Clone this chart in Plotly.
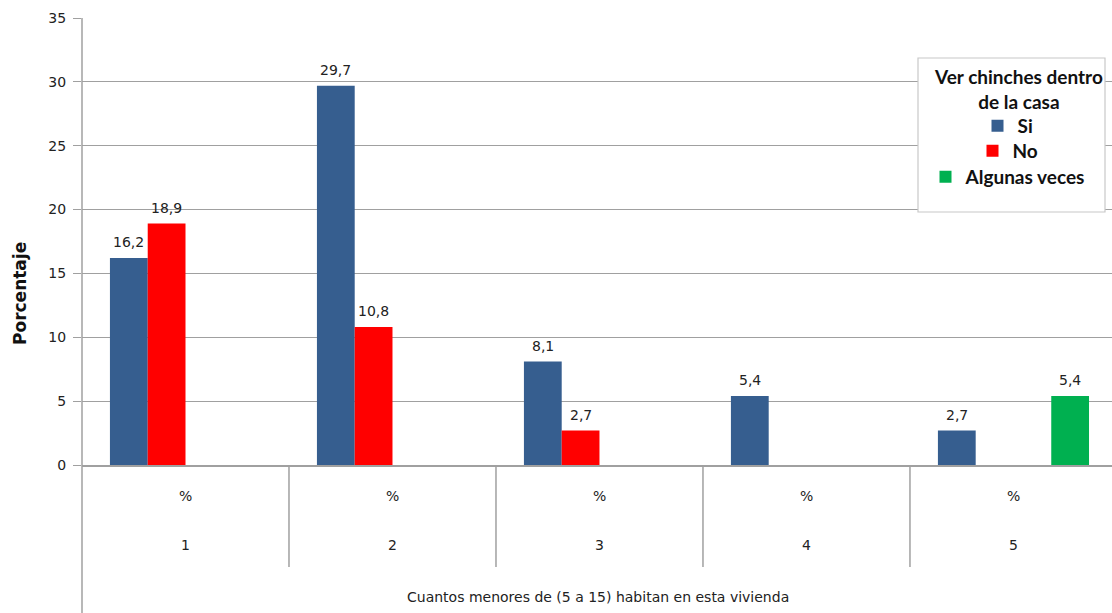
import plotly.graph_objects as go

# Number of children (5 to 15) living in the household
categorias = ["1", "2", "3", "4", "5"]
subetiqueta = "%"

# Percentages per answer to "Ver chinches dentro de la casa"
si = [16.2, 29.7, 8.1, 5.4, 2.7]
no = [18.9, 10.8, 2.7, None, None]
sin_dato = [None, None, None, None, None]
algunas_veces = [None, None, None, None, 5.4]

y_ticks = [0, 5, 10, 15, 20, 25, 30, 35]

COL_SI = "#365E8F"
COL_NO = "#FF0000"
COL_ALG = "#00B050"
GRID = "#a0a0a0"
TXT = "#222222"
TICKFONT = dict(family="DejaVu Sans", size=14, color=TXT)
BARGAP = 0.27


def etiqueta(v):
    return f"{v:.1f}".replace(".", ",")


series = [
    ("Si", si, COL_SI, True, "legend"),
    ("No", no, COL_NO, True, "legend2"),
    ("NS/NR", sin_dato, "#7F7F7F", False, "legend"),
    ("Algunas veces", algunas_veces, COL_ALG, True, "legend3"),
]

fig = go.Figure()
for nombre, vals, color, visible_leyenda, leyenda in series:
    fig.add_trace(go.Bar(
        x=categorias, y=vals, name=nombre,
        marker=dict(color=color, line=dict(width=0)),
        showlegend=visible_leyenda, legend=leyenda,
    ))

# Plot area geometry: bottom of the axis at 465px, top at 18px
plot_h = 613 - 18 - 148


def py(pix):
    return (465 - pix) / plot_h


def px(pix):
    return (pix - 82) / 1030


annotations = []
# value labels above each bar (grouped bar offsets inside the category)
ancho_barra = (1 - BARGAP) / len(series)
for k, (nombre, vals, color, _, _) in enumerate(series):
    desplaz = (k - (len(series) - 1) / 2) * ancho_barra
    for i, v in enumerate(vals):
        if v is None:
            continue
        annotations.append(dict(x=i + desplaz, y=v, xref="x", yref="y",
                                xanchor="center", yanchor="bottom", yshift=6,
                                text=etiqueta(v), showarrow=False, font=TICKFONT))

shapes = []
# left axis line extending down through the category labels
shapes.append(dict(type="line", xref="paper", yref="paper", x0=0, x1=0,
                   y0=1, y1=py(613), line=dict(color=GRID, width=1.5)))
# separators between categories
for i in range(len(categorias) - 1):
    shapes.append(dict(type="line", xref="x", yref="paper",
                       x0=i + 0.5, x1=i + 0.5, y0=0, y1=py(567),
                       line=dict(color=GRID, width=1.5)))
# legend frame
shapes.append(dict(type="rect", xref="paper", yref="paper",
                   x0=px(918), x1=px(1105), y0=py(212), y1=py(58), layer="above",
                   fillcolor="white", line=dict(color="#c8c8c8", width=1.2)))

for i, c in enumerate(categorias):
    annotations.append(dict(x=i, y=py(496), xref="x", yref="paper",
                            xanchor="center", yanchor="middle",
                            text=subetiqueta, showarrow=False, font=TICKFONT))
    annotations.append(dict(x=i, y=py(545), xref="x", yref="paper",
                            xanchor="center", yanchor="middle",
                            text=c, showarrow=False, font=TICKFONT))
annotations.append(dict(x=px(598), y=py(597), xref="paper", yref="paper",
                        xanchor="center", yanchor="middle",
                        text="Cuantos menores de (5 a 15) habitan en esta vivienda",
                        showarrow=False, font=dict(family="DejaVu Sans", size=14, color=TXT)))
annotations.append(dict(x=px(20), y=py(294), xref="paper", yref="paper",
                        xanchor="center", yanchor="middle", textangle=-90,
                        text="<b>Porcentaje</b>", showarrow=False,
                        font=dict(family="DejaVu Sans", size=17, color="#111111")))
annotations.append(dict(x=px(1018), y=py(89), xref="paper", yref="paper",
                        xanchor="center", yanchor="middle",
                        text="<b>Ver chinches dentro<br>de la casa</b>", showarrow=False,
                        align="center",
                        font=dict(family="Lato", size=19, color="#111111")))

leg_x = px(1008)
leg_common = dict(xref="paper", yref="paper", xanchor="center", yanchor="middle",
                  bgcolor="rgba(0,0,0,0)", borderwidth=0,
                  font=dict(family="Lato", size=19, color="#111111", weight="bold"),
                  itemwidth=30)

fig.update_layout(
    width=1112, height=613,
    margin=dict(l=82, r=0, t=18, b=148),
    paper_bgcolor="white", plot_bgcolor="white",
    barmode="group", bargap=BARGAP, bargroupgap=0,
    xaxis=dict(type="category", range=[-0.5, 4.476], showticklabels=False,
               showgrid=False, showline=True, linecolor=GRID, linewidth=1.5,
               ticks="", zeroline=False),
    yaxis=dict(range=[0, 35], tickvals=y_ticks, showgrid=True, gridcolor=GRID,
               gridwidth=1.2, ticks="outside", ticklen=8, tickcolor=GRID,
               tickwidth=1.2, zeroline=False, showline=False, tickfont=TICKFONT,
               ticklabelstandoff=4),
    legend=dict(x=leg_x, y=py(126), **leg_common),
    legend2=dict(x=leg_x, y=py(151), **leg_common),
    legend3=dict(x=leg_x, y=py(177), **leg_common),
    shapes=shapes, annotations=annotations,
    showlegend=True,
)

fig.write_html("out.html")
